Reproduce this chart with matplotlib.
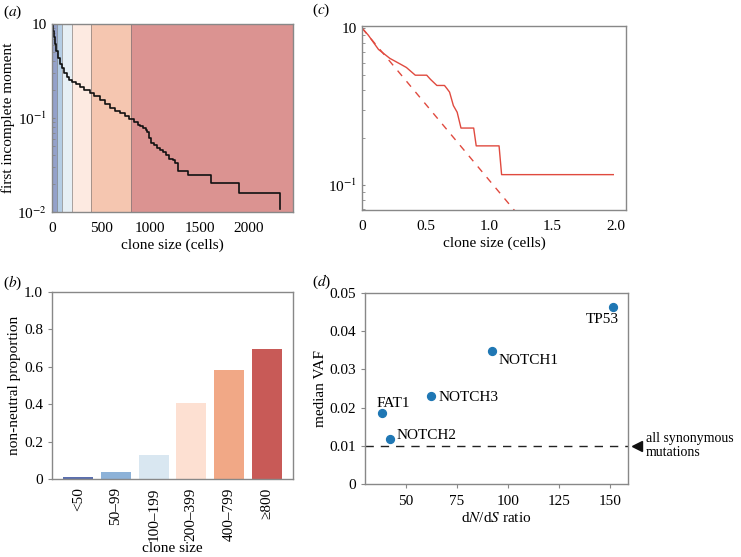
import matplotlib
matplotlib.use("Agg")
import matplotlib.pyplot as plt
from matplotlib.ticker import NullFormatter, LogLocator

plt.rcParams['font.family'] = ['Liberation Serif', 'DejaVu Serif']
plt.rcParams['mathtext.fontset'] = 'stix'
plt.rcParams['font.size'] = 11

# (a) first incomplete moment vs clone size
moment_x = [0, 10, 20, 30, 45, 64, 80, 98, 120, 149, 175, 199, 240, 284, 330, 385, 430,
            486, 540, 588, 640, 689, 740, 783, 830, 870, 892, 930, 955, 966, 985, 1010,
            1040, 1070, 1100, 1128, 1160, 1190, 1229, 1250, 1280, 1381, 1618, 1898, 2317]
moment_y = [1.0, 0.85, 0.72, 0.62, 0.52, 0.43, 0.38, 0.34, 0.30, 0.275, 0.255, 0.243,
            0.228, 0.215, 0.2, 0.186, 0.17, 0.155, 0.142, 0.129, 0.12, 0.112, 0.104,
            0.097, 0.09, 0.085, 0.082, 0.078, 0.075, 0.0715, 0.062, 0.054, 0.051, 0.048,
            0.046, 0.044, 0.040, 0.037, 0.036, 0.033, 0.027, 0.0245, 0.0205, 0.016, 0.0107]
band_edges = [0, 50, 100, 200, 400, 800, 2450]

# (b) non-neutral proportion by clone size
size_bins = ['<50', '50–99', '100–199', '200–399', '400–799', '≥800']
non_neutral = [0.012, 0.037, 0.13, 0.408, 0.585, 0.697]
bin_colors = ['#5b6fae', '#8db2d8', '#d9e7f1', '#fde0d2', '#f1a886', '#c85a57']

# (c) first incomplete moment, rescaled
scaled_x = [0, 0.05, 0.13, 0.22, 0.3, 0.35, 0.42, 0.51, 0.54, 0.59, 0.65, 0.67, 0.69,
            0.72, 0.75, 0.78, 0.88, 0.9, 1.08, 1.10, 1.98]
scaled_y = [1.0, 0.9, 0.73, 0.64, 0.59, 0.56, 0.50, 0.50, 0.47, 0.43, 0.43, 0.41, 0.39,
            0.32, 0.29, 0.23, 0.23, 0.177, 0.177, 0.116, 0.116]
neutral_x = [0, 1.3]
neutral_y = [1.0, 0.055]

# (d) dN/dS vs median VAF
genes = ['TP53', 'NOTCH1', 'NOTCH3', 'FAT1', 'NOTCH2']
dnds = [151.6, 92.3, 62.6, 38.4, 42.2]
median_vaf = [0.0464, 0.0349, 0.0230, 0.0185, 0.0119]
label_offsets = [(-8, -9), (5, -7), (5, -1), (-4, 7), (5, 2)]
synonymous_vaf = 0.01

spine_col = '#888888'
red = '#e04a3f'

fig = plt.figure(figsize=(7.41, 5.57), dpi=100)
ax_a = fig.add_axes([0.0702, 0.6194, 0.3252, 0.3375])
ax_c = fig.add_axes([0.4885, 0.6230, 0.3563, 0.3303])
ax_b = fig.add_axes([0.0702, 0.1400, 0.3252, 0.3357])
ax_d = fig.add_axes([0.4926, 0.1311, 0.3549, 0.3429])

for ax in (ax_a, ax_b, ax_c, ax_d):
    for s in ax.spines.values():
        s.set_color(spine_col)
        s.set_linewidth(1)

# panel a
for i in range(len(size_bins)):
    ax_a.axvspan(band_edges[i], band_edges[i + 1], color=bin_colors[i], alpha=0.65, lw=0)
for e in band_edges[1:-1]:
    ax_a.axvline(e, color='#707070', lw=0.7, alpha=0.6)
ax_a.step(moment_x, moment_y, where='post', color='#111111', lw=1.2)
ax_a.set_yscale('log')
ax_a.set_ylim(0.01, 1)
ax_a.set_xlim(0, 2450)
ax_a.set_yticks([1, 0.1, 0.01])
ax_a.set_yticklabels(['10', '10$^{-1}$', '10$^{-2}$'])
ax_a.yaxis.set_minor_locator(LogLocator(subs=range(2, 10)))
ax_a.yaxis.set_minor_formatter(NullFormatter())
ax_a.set_xticks([0, 500, 1000, 1500, 2000])
ax_a.tick_params(which='both', direction='in', color=spine_col, length=2.5)
ax_a.tick_params(axis='x', length=0, pad=7)
ax_a.set_xlabel('clone size (cells)', labelpad=3)
ax_a.set_ylabel('first incomplete moment', labelpad=2)

# panel c
ax_c.plot(scaled_x, scaled_y, color=red, lw=1)
ax_c.plot(neutral_x, neutral_y, color=red, lw=1, linestyle=(0, (5, 5)))
ax_c.set_yscale('log')
ax_c.set_ylim(0.069, 1.03)
ax_c.set_xlim(0, 2.08)
ax_c.set_yticks([1, 0.1])
ax_c.set_yticklabels(['10', '10$^{-1}$'])
ax_c.yaxis.set_minor_locator(LogLocator(subs=range(2, 10)))
ax_c.yaxis.set_minor_formatter(NullFormatter())
ax_c.set_xticks([0, 0.5, 1.0, 1.5, 2.0])
ax_c.set_xticklabels(['0', '0.5', '1.0', '1.5', '2.0'])
ax_c.tick_params(which='both', direction='in', color=spine_col, length=2.5)
ax_c.tick_params(axis='x', length=0, pad=7)
ax_c.set_xlabel('clone size (cells)', labelpad=3)

# panel b
ax_b.bar(range(len(size_bins)), non_neutral, color=bin_colors, width=0.8)
ax_b.set_xlim(-0.7, 5.7)
ax_b.set_ylim(0, 1.0)
ax_b.set_xticks(range(len(size_bins)))
ax_b.set_xticklabels(size_bins, rotation=90)
ax_b.set_yticks([0, 0.2, 0.4, 0.6, 0.8, 1.0])
ax_b.set_yticklabels(['0', '0.2', '0.4', '0.6', '0.8', '1.0'])
ax_b.tick_params(axis='y', color=spine_col, length=3)
ax_b.tick_params(axis='x', length=0, pad=6)
ax_b.set_xlabel('clone size', labelpad=1)
ax_b.set_ylabel('non-neutral proportion', labelpad=2)

# panel d
ax_d.axhline(synonymous_vaf, color='#222222', lw=1, linestyle=(0, (6, 5)))
ax_d.scatter(dnds, median_vaf, s=32, color='#1f77b4', zorder=3)
for g, x, y, off in zip(genes, dnds, median_vaf, label_offsets):
    ha = 'center' if g == 'TP53' else 'left'
    ax_d.annotate(g, (x, y), xytext=off, textcoords='offset points', ha=ha, va='center')
ax_d.set_xlim(30, 159)
ax_d.set_ylim(0, 0.05)
ax_d.set_xticks([50, 75, 100, 125, 150])
ax_d.set_yticks([0, 0.01, 0.02, 0.03, 0.04, 0.05])
ax_d.set_yticklabels(['0', '0.01', '0.02', '0.03', '0.04', '0.05'])
ax_d.tick_params(color=spine_col, length=3)
ax_d.tick_params(axis='x', pad=5)
ax_d.set_xlabel('d$\\it{N}$/d$\\it{S}$ ratio', labelpad=2)
ax_d.set_ylabel('median VAF', labelpad=2)
trans = ax_d.get_yaxis_transform()
ax_d.plot([1.034], [synonymous_vaf], marker='<', color='#111111', markersize=7,
          transform=trans, clip_on=False)
ax_d.text(1.068, synonymous_vaf, 'all synonymous\nmutations', transform=trans,
          ha='left', va='center', linespacing=1.1, fontsize=10)

# panel letters
for lbl, x, y in [('a', 0.004, 0.978), ('c', 0.421, 0.982), ('b', 0.004, 0.492), ('d', 0.421, 0.494)]:
    fig.text(x, y, '(' + '$\\it{' + lbl + '}$' + ')', ha='left', va='center', fontsize=11)

fig.savefig('out.png', dpi=100)
